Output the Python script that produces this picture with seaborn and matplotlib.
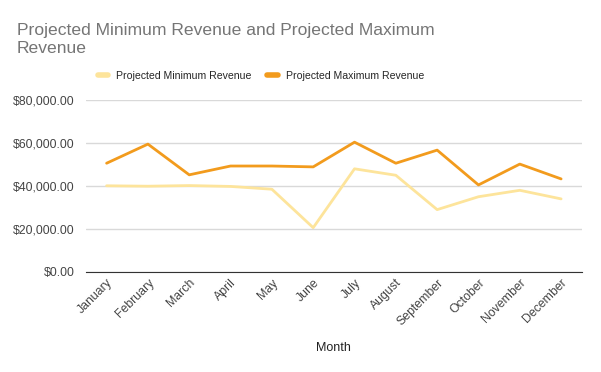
import matplotlib
matplotlib.use("Agg")
import matplotlib.pyplot as plt
import matplotlib.ticker as mticker
import seaborn as sns
import pandas as pd

# chart data
months = ["January", "February", "March", "April", "May", "June",
          "July", "August", "September", "October", "November", "December"]
min_revenue = [40100, 39900, 40200, 39800, 38500, 20600,
               48000, 45000, 29000, 35000, 38000, 34000]
max_revenue = [50600, 59500, 45200, 49300, 49300, 48900,
               60400, 50600, 56700, 40500, 50200, 43300]
series_names = ["Projected Minimum Revenue", "Projected Maximum Revenue"]
series_colors = ["#fde49b", "#f29b1d"]

df = pd.DataFrame({
    "Month": months * 2,
    "Revenue": min_revenue + max_revenue,
    "Series": [series_names[0]] * len(months) + [series_names[1]] * len(months),
})

sns.set_style("white")
plt.rcParams["font.family"] = ["Liberation Sans", "DejaVu Sans"]

fig = plt.figure(figsize=(6.01, 3.72), dpi=100)
ax = fig.add_axes([0.143, 0.269, 0.825, 0.462])

sns.lineplot(data=df, x="Month", y="Revenue", hue="Series",
             palette=dict(zip(series_names, series_colors)),
             linewidth=2, sort=False, ax=ax, legend=False)

ax.set_xlim(-0.5, len(months) - 0.5)
ax.set_ylim(0, 80000)
ax.yaxis.set_major_locator(mticker.MultipleLocator(20000))
ax.yaxis.set_major_formatter(mticker.FuncFormatter(lambda v, p: f"${v:,.2f}"))
ax.grid(axis="y", color="#d9d9d9", linewidth=1)
ax.set_axisbelow(True)
for side in ["top", "right", "left"]:
    ax.spines[side].set_visible(False)
ax.spines["bottom"].set_color("#333333")
ax.tick_params(axis="both", length=0, labelsize=8.8, labelcolor="#444444")
ax.tick_params(axis="y", pad=8)
plt.setp(ax.get_xticklabels(), rotation=45, ha="right", rotation_mode="anchor")
ax.set_xlabel("Month", fontsize=9, color="#222222", labelpad=10)
ax.set_ylabel("")

# two-line title, placed line by line
fig.text(0.028, 0.906, "Projected Minimum Revenue and Projected Maximum",
         fontsize=12.6, color="#757575", ha="left", va="baseline")
fig.text(0.028, 0.858, "Revenue",
         fontsize=12.6, color="#757575", ha="left", va="baseline")

handles = [plt.Line2D([], [], color=c, linewidth=4) for c in series_colors]
fig.legend(handles, series_names, loc="center", bbox_to_anchor=(0.434, 0.796),
           ncol=2, frameon=False, fontsize=7.6, handlelength=1.0,
           columnspacing=1.5, handletextpad=0.75)

fig.savefig("out.png", dpi=100)
